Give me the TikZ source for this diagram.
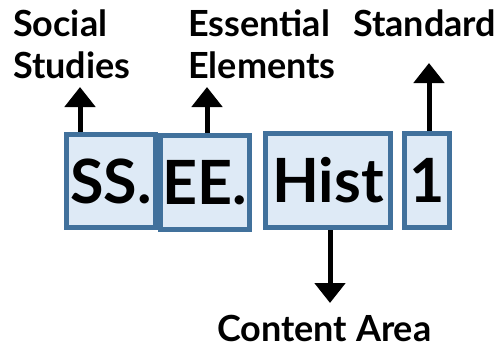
\documentclass[tikz,border=0pt]{standalone}
\usepackage{fontspec}
\setmainfont{Lato}
\usepackage{xcolor}
\usetikzlibrary{positioning,calc,arrows.meta}
\definecolor{boxfill}{HTML}{DEEAF6}
\definecolor{boxline}{HTML}{41719C}
\tikzset{
    codebox/.style={draw=boxline, fill=boxfill, line width=5pt, inner sep=0pt,
        font=\fontsize{61}{61}\selectfont\bfseries},
    lbl/.style={inner sep=0pt, align=left, anchor=base west,
        font=\fontsize{36}{42}\selectfont\bfseries},
    pointer/.style={line width=5pt, -{Triangle[width=30pt,length=20pt]}}
}
\begin{document}
\begin{tikzpicture}[x=1pt,y=-1pt]
    \useasboundingbox (0,0) rectangle (503,348);
    % code pieces
    \node[codebox, minimum width=89pt, minimum height=93pt] (ss) at (111,181) {SS.};
    \node[codebox, minimum width=89pt, minimum height=94pt] (ee) at (205,182.5) {EE.};
    \node[codebox, minimum width=125pt, minimum height=94pt] (hist) at (328,180.5) {Hist};
    \node[codebox, minimum width=45pt, minimum height=94pt] (num) at (427,180.5) {1};
    % labels (base = last line)
    \node[lbl] (social) at (13,78) {Social\\Studies};
    \node[lbl] (essential) at (188,78) {Essential\\Elements};
    \node[lbl] (standard) at (353,36) {Standard};
    \node[lbl] (content) at (217,341) {Content Area};
    % arrow tips
    \coordinate (ssTip) at (80,87);
    \coordinate (eeTip) at (207,87);
    \coordinate (numTip) at (429,63);
    \coordinate (histTip) at (330,303);
    \draw[pointer] (ss.north -| ssTip) -- (ssTip);
    \draw[pointer] (ee.north -| eeTip) -- (eeTip);
    \draw[pointer] (num.north -| numTip) -- (numTip);
    \draw[pointer] (hist.south -| histTip) -- (histTip);
\end{tikzpicture}
\end{document}
